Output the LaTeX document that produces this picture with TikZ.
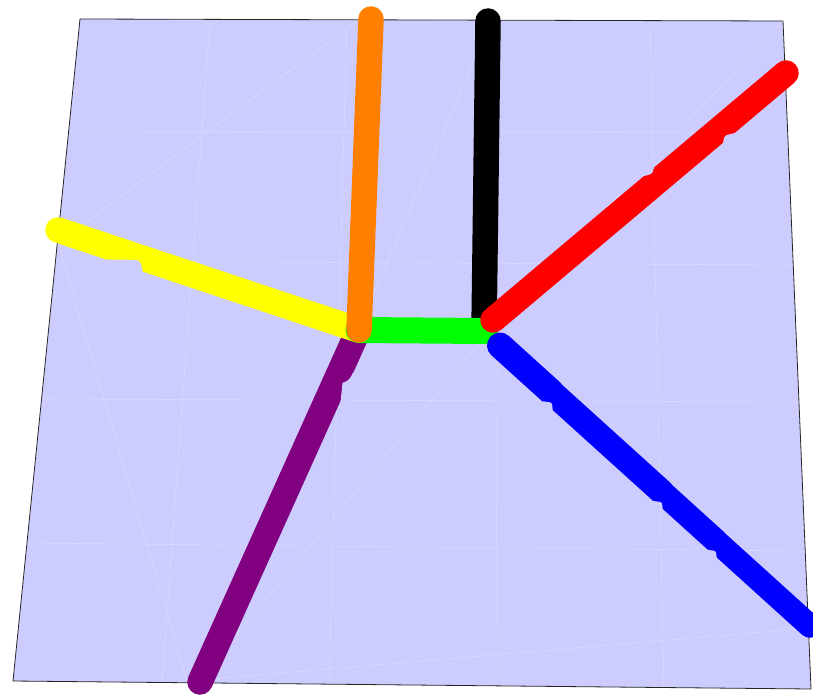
\documentclass[tikz,border=0pt]{standalone}
\definecolor{surf}{HTML}{CCCCFF}
\definecolor{lpurple}{HTML}{800080}
\definecolor{lorange}{HTML}{FF8000}
\definecolor{lgreen}{HTML}{00FF00}
\definecolor{lyellow}{HTML}{FFFF00}
\definecolor{lred}{HTML}{FF0000}
\definecolor{lblue}{HTML}{0000FF}
\tikzset{
  seg/.style={line width=25.5pt, line cap=round},
  carve/.style={fill=surf},
  seam/.style={white, opacity=0.25, line width=0.6pt},
  rim/.style={draw=black!85, line width=0.8pt, fill=surf}
}
\begin{document}
\begin{tikzpicture}[x=1pt,y=-1pt]
\useasboundingbox (0,0) rectangle (813,695);
% surface corners
\coordinate (TL) at (80,19);
\coordinate (TR) at (783,21);
\coordinate (BR) at (811,689);
\coordinate (BL) at (13,681);
\path[rim] (TL) -- (TR) -- (BR) -- (BL) -- cycle;
% faint seams of the surface
\draw[seam] (69,131) -- (788,133);
\draw[seam] (55.5,261) -- (793,265);
\draw[seam] (41.5,399) -- (799,402);
\draw[seam] (27,543) -- (805,551);
\draw[seam] (210,20) -- (162,682);
\draw[seam] (347,20) -- (329,683);
\draw[seam] (498,20.5) -- (496,685);
\draw[seam] (650,21) -- (664,688);
\draw[seam] (58,243) -- (358,20);
\draw[seam] (58,243) -- (187,681);
\draw[seam] (491,21) -- (358,330);
\draw[seam] (783,21) -- (484,337);
\draw[seam] (484,337) -- (198,681);
\draw[seam] (187,681) -- (810,628);
% junctions and ends
\coordinate (J1) at (358.5,330);
\coordinate (J2) at (485,331);
\coordinate (Yend) at (58,230);
\coordinate (Oend) at (371,19);
\coordinate (Obot) at (359,330);
\coordinate (Kend) at (488,21);
\coordinate (Kbot) at (484,331);
\coordinate (Rbeg) at (493,320);
\coordinate (Rend) at (786,73);
\coordinate (Bbeg) at (500,345.5);
\coordinate (B1) at (551.5,392.1);
\coordinate (B2) at (661.5,491.6);
\coordinate (B3) at (715.5,540.5);
\coordinate (Bend) at (810,626);
\coordinate (Pend) at (200,682);
% purple
\draw[seg, lpurple] (J1) -- (Pend);
\fill[carve] (353,372.7) .. controls (351,378) and (347,382) .. (342.5,382.8)
  -- (340.5,402.5) -- (350,402.5) -- (362,372.7) -- cycle;
% yellow
\draw[seg, lyellow] (Yend) -- (J1);
\fill[carve] (107,259.6) -- (136,259.8) -- (139.3,261.5) -- (141.3,264.5)
  -- (142.5,271.4) -- (142.5,277) -- (106,277) -- cycle;
% black
\draw[seg, black] (Kend) -- (Kbot);
% green
\draw[seg, lgreen, line width=26pt] (J1) -- (J2);
% orange
\draw[seg, lorange] (Oend) -- (Obot);
% red
\draw[seg, lred] (Rbeg) -- (Rend);
\fill[carve] (734,133.2) -- (726.5,135) -- (724.2,137.5) -- (723,142.5)
  -- (731,146) -- (742,134) -- cycle;
\fill[carve] (654,167.9) -- (652.3,172.8) -- (649.5,174.6) -- (644.5,175.9)
  -- (640,170) -- (652,160) -- cycle;
% blue (slightly narrowing with depth)
\draw[seg, lblue, line width=26pt] (Bbeg) -- (B1);
\draw[seg, lblue, line width=25pt] (B1) -- (B2);
\draw[seg, lblue, line width=24pt] (B2) -- (B3);
\draw[seg, lblue, line width=23.5pt] (B3) -- (Bend);
\fill[carve] (543,401.3) -- (550,402.3) -- (551.8,403.6) -- (552.4,405.9)
  -- (552.6,410.0) -- (552.6,415.5) -- (539,404.8) -- cycle;
\fill[carve] (653,500.9) -- (660,501.9) -- (661.8,503.2) -- (662.4,505.5)
  -- (662.6,509.6) -- (662.6,515.1) -- (649,504.4) -- cycle;
\fill[carve] (707,549.7) -- (714,550.7) -- (715.8,552.0) -- (716.4,554.3)
  -- (716.6,558.4) -- (716.6,563.9) -- (703,553.2) -- cycle;
\end{tikzpicture}
\end{document}
